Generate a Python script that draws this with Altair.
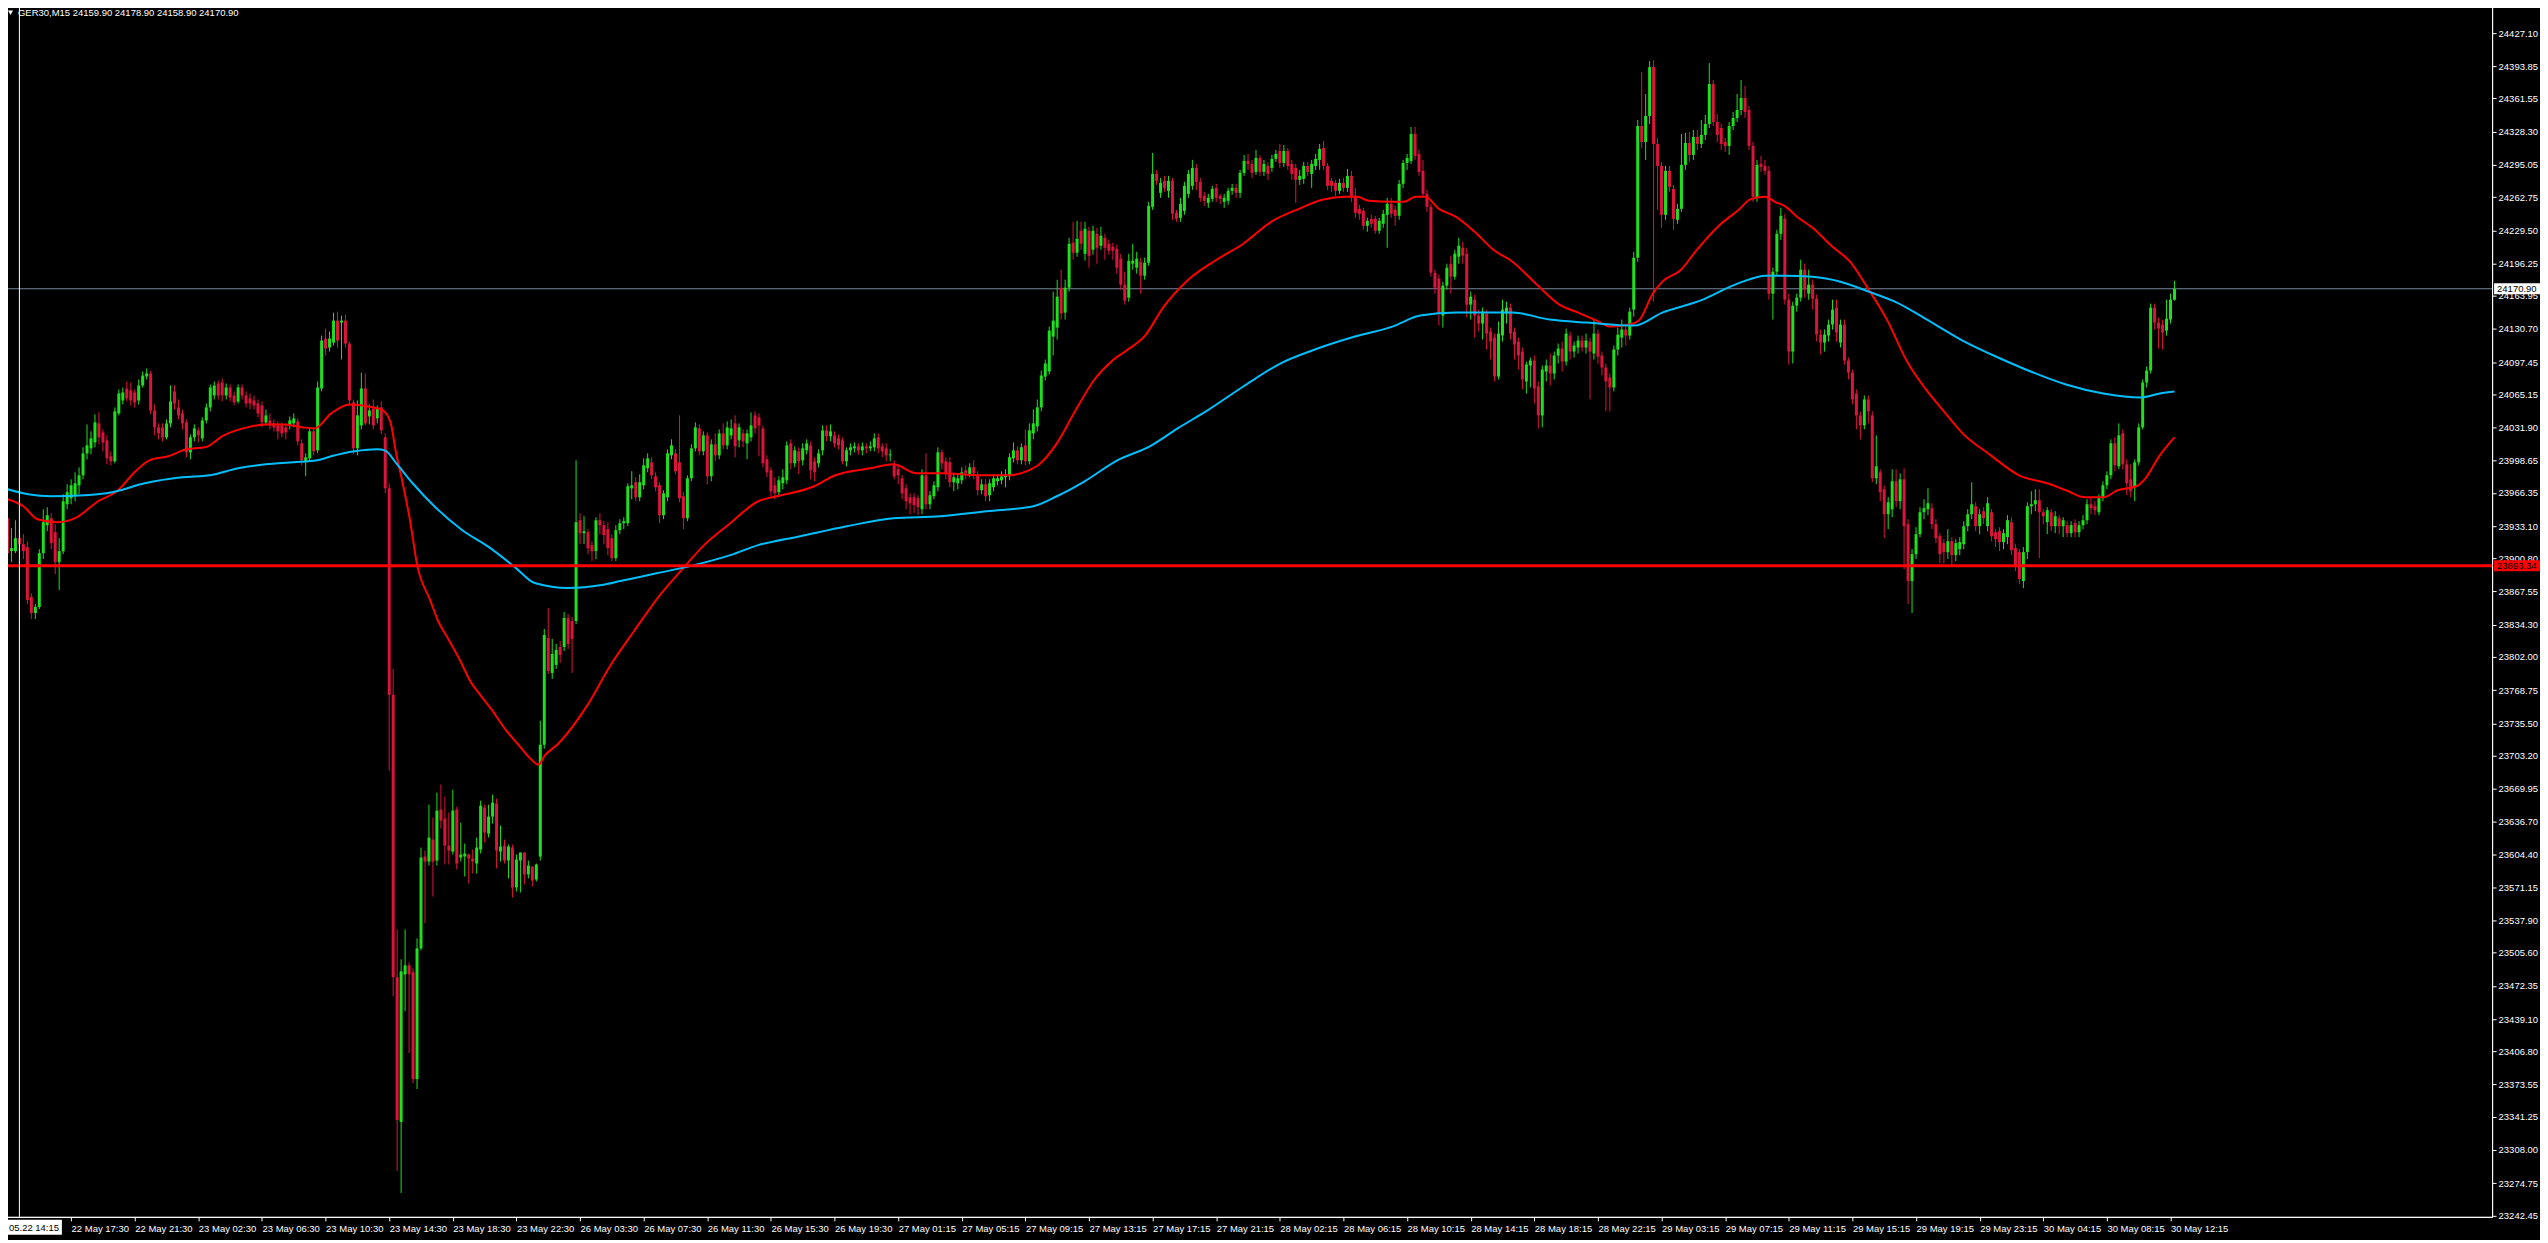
import json
import altair as alt
import pandas as pd

# ---------------- data ----------------
symbol = "GER30,M15"

opens = [
    23941, 23908, 23908, 23921, 23915, 23912, 23862, 23846, 23852, 23906,
    23934, 23941, 23927, 23897, 23908, 23955, 23961, 23964, 23974, 23984,
    24006, 24011, 24017, 24036, 24027, 24019, 24003, 23998, 24046, 24059,
    24071, 24069, 24067, 24059, 24074, 24083, 24086, 24049, 24032, 24032,
    24022, 24036, 24068, 24052, 24046, 24037, 24007, 24022, 24029, 24021,
    24039, 24052, 24064, 24076, 24077, 24064, 24072, 24064, 24058, 24072,
    24064, 24061, 24059, 24056, 24054, 24037, 24039, 24036, 24034, 24034,
    24032, 24034, 24036, 24038, 24016, 23998, 24001, 24028, 24009, 24071,
    24121, 24112, 24117, 24139, 24137, 24139, 24116, 24057, 24011, 24034,
    24071, 24043, 24051, 24041, 24052, 24022, 23971, 23764, 23481, 23336,
    23484, 23493, 23486, 23379, 23510, 23602, 23597, 23619, 23598, 23649,
    23640, 23613, 23607, 23649, 23601, 23602, 23604, 23600, 23595, 23609,
    23651, 23625, 23642, 23655, 23607, 23613, 23598, 23611, 23571, 23598,
    23606, 23584, 23592, 23579, 23602, 23714, 23821, 23786, 23794, 23812,
    23812, 23841, 23838, 23838, 23939, 23926, 23927, 23914, 23908, 23939,
    23934, 23930, 23921, 23901, 23929, 23936, 23936, 23971, 23977, 23962,
    23974, 23991, 23997, 23983, 23974, 23944, 23962, 24004, 24006, 23997,
    23963, 23941, 23981, 24011, 24031, 24008, 24024, 23983, 24015, 24004,
    24026, 24014, 24024, 24036, 24019, 24026, 24016, 24022, 24044, 24042,
    24031, 24000, 23989, 23974, 23967, 23976, 23979, 24016, 23996, 24008,
    23999, 24009, 24014, 23998, 23996, 24009, 24029, 24023, 24024, 24021,
    24019, 23998, 24009, 24011, 24013, 24009, 24013, 24011, 24012, 24022,
    24013, 24011, 24004, 23994, 23990, 23981, 23971, 23962, 23962, 23961,
    23950, 23984, 23955, 23963, 23972, 24007, 23998, 23997, 23977, 23976,
    23979, 23989, 23985, 23992, 23984, 23969, 23975, 23964, 23972, 23978,
    23979, 23982, 23983, 24001, 24009, 23999, 24014, 23998, 24026, 24033,
    24052, 24083, 24088, 24123, 24132, 24172, 24147, 24172, 24217, 24207,
    24229, 24206, 24229, 24210, 24226, 24214, 24222, 24216, 24213, 24211,
    24201, 24175, 24162, 24196, 24192, 24198, 24184, 24197, 24253, 24286,
    24267, 24279, 24269, 24279, 24247, 24242, 24249, 24266, 24274, 24292,
    24278, 24264, 24257, 24261, 24272, 24264, 24258, 24259, 24269, 24272,
    24267, 24287, 24299, 24296, 24288, 24302, 24288, 24294, 24292, 24301,
    24309, 24297, 24309, 24296, 24292, 24280, 24281, 24294, 24286, 24294,
    24300, 24312, 24294, 24279, 24277, 24269, 24277, 24272, 24284, 24264,
    24251, 24249, 24234, 24241, 24241, 24229, 24236, 24245, 24256, 24250,
    24244, 24276, 24297, 24299, 24326, 24306, 24289, 24266, 24253, 24187,
    24181, 24144, 24174, 24196, 24183, 24203, 24212, 24206, 24155, 24160,
    24144, 24136, 24146, 24128, 24122, 24083, 24124, 24146, 24152, 24128,
    24118, 24108, 24078, 24094, 24099, 24073, 24044, 24088, 24094, 24086,
    24104, 24111, 24098, 24124, 24108, 24112, 24119, 24112, 24118, 24106,
    24126, 24104, 24092, 24082, 24072, 24110, 24122, 24130, 24124, 24150,
    24202, 24334, 24318, 24344, 24393, 24316, 24294, 24245, 24289, 24271,
    24240, 24251, 24295, 24317, 24305, 24323, 24316, 24325, 24336, 24376,
    24338, 24332, 24318, 24314, 24334, 24342, 24350, 24362, 24350, 24314,
    24263, 24296, 24294, 24289, 24166, 24188, 24226, 24241, 24160, 24108,
    24154, 24162, 24190, 24166, 24175, 24161, 24125, 24117, 24124, 24135,
    24152, 24117, 24135, 24099, 24087, 24066, 24044, 24034, 24060, 24044,
    23981, 23987, 23970, 23945, 23950, 23978, 23958, 23980, 23935, 23878,
    23905, 23925, 23947, 23950, 23951, 23935, 23923, 23916, 23907, 23918,
    23904, 23910, 23915, 23933, 23945, 23953, 23933, 23948, 23933, 23947,
    23927, 23928, 23917, 23922, 23937, 23911, 23907, 23878, 23907, 23953,
    23955, 23959, 23947, 23937, 23947, 23933, 23941, 23933, 23934, 23926,
    23936, 23927, 23934, 23939, 23955, 23953, 23947, 23961, 23974, 23984,
    24016, 23993, 24026, 23995, 23980, 23973, 23997, 24032, 24077, 24089,
    24152, 24137, 24135, 24129, 24140, 24159.90,
]

highs = [
    23945, 23931, 23939, 23929, 23925, 23918, 23866, 23855, 23910, 23950,
    23952, 23946, 23935, 23921, 23965, 23975, 23980, 23987, 23992, 24012,
    24035, 24028, 24045, 24047, 24030, 24024, 24008, 24052, 24070, 24072,
    24078, 24077, 24070, 24080, 24088, 24091, 24089, 24055, 24036, 24036,
    24040, 24074, 24074, 24060, 24050, 24040, 24025, 24035, 24032, 24042,
    24056, 24075, 24078, 24079, 24081, 24076, 24075, 24068, 24075, 24075,
    24068, 24066, 24064, 24060, 24058, 24050, 24046, 24040, 24038, 24037,
    24036, 24043, 24046, 24041, 24020, 24006, 24031, 24032, 24078, 24124,
    24131, 24128, 24147, 24148, 24144, 24145, 24118, 24060, 24059, 24087,
    24086, 24055, 24060, 24054, 24058, 24026, 23976, 23790, 23529, 23499,
    23529, 23496, 23490, 23520, 23611, 23608, 23654, 23641, 23666, 23674,
    23662, 23646, 23669, 23652, 23636, 23615, 23605, 23609, 23621, 23658,
    23654, 23654, 23664, 23660, 23633, 23619, 23614, 23614, 23604, 23606,
    23606, 23598, 23592, 23595, 23738, 23830, 23851, 23820, 23815, 23818,
    23847, 23845, 23842, 23999, 23946, 23943, 23930, 23918, 23942, 23946,
    23938, 23937, 23925, 23934, 23940, 23942, 23976, 23988, 23982, 23985,
    24001, 24006, 24002, 23987, 23977, 23969, 24010, 24020, 24010, 24044,
    23967, 23984, 24015, 24037, 24035, 24028, 24027, 24020, 24026, 24030,
    24036, 24038, 24040, 24044, 24036, 24030, 24030, 24047, 24048, 24046,
    24034, 24004, 23992, 23982, 23983, 23990, 24018, 24020, 24013, 24012,
    24016, 24020, 24018, 24002, 24010, 24034, 24034, 24035, 24028, 24025,
    24022, 24012, 24016, 24017, 24016, 24017, 24016, 24018, 24026, 24026,
    24016, 24016, 24010, 23999, 23995, 23984, 23975, 23966, 23966, 23964,
    23990, 24006, 23968, 23978, 24012, 24010, 24002, 24002, 23986, 23985,
    23992, 23994, 23996, 23999, 23988, 23980, 23980, 23980, 23985, 23985,
    23988, 23990, 24006, 24017, 24013, 24016, 24030, 24036, 24050, 24060,
    24089, 24100, 24133, 24168, 24180, 24190, 24180, 24222, 24238, 24239,
    24238, 24238, 24233, 24234, 24232, 24233, 24226, 24220, 24217, 24215,
    24206, 24188, 24206, 24216, 24208, 24202, 24202, 24258, 24307, 24290,
    24282, 24284, 24284, 24282, 24250, 24262, 24278, 24290, 24300, 24296,
    24282, 24268, 24266, 24274, 24276, 24266, 24266, 24272, 24276, 24276,
    24290, 24305, 24306, 24300, 24310, 24305, 24300, 24298, 24305, 24310,
    24316, 24315, 24312, 24300, 24296, 24290, 24298, 24298, 24300, 24306,
    24316, 24319, 24297, 24282, 24280, 24281, 24282, 24291, 24289, 24272,
    24255, 24252, 24242, 24245, 24244, 24242, 24250, 24262, 24262, 24254,
    24280, 24300, 24306, 24333, 24333, 24310, 24300, 24270, 24256, 24190,
    24185, 24178, 24196, 24204, 24210, 24222, 24218, 24212, 24168, 24165,
    24150, 24152, 24150, 24132, 24126, 24138, 24160, 24158, 24156, 24132,
    24122, 24112, 24098, 24102, 24104, 24078, 24094, 24100, 24106, 24108,
    24116, 24118, 24131, 24128, 24118, 24124, 24124, 24126, 24122, 24140,
    24130, 24108, 24096, 24086, 24114, 24132, 24140, 24136, 24152, 24208,
    24340, 24388, 24366, 24399, 24400, 24322, 24298, 24294, 24294, 24275,
    24256, 24326, 24327, 24328, 24330, 24330, 24340, 24345, 24397, 24380,
    24346, 24336, 24322, 24338, 24348, 24366, 24380, 24374, 24354, 24318,
    24300, 24304, 24300, 24294, 24192, 24230, 24252, 24246, 24166, 24158,
    24166, 24200, 24196, 24190, 24180, 24165, 24130, 24130, 24140, 24160,
    24160, 24140, 24140, 24102, 24090, 24070, 24048, 24064, 24064, 24048,
    24024, 23990, 23974, 23962, 23990, 23990, 23986, 23991, 23940, 23910,
    23932, 23952, 23960, 23971, 23956, 23940, 23926, 23920, 23930, 23922,
    23920, 23922, 23938, 23950, 23977, 23957, 23950, 23952, 23962, 23950,
    23930, 23932, 23930, 23944, 23942, 23915, 23910, 23912, 23957, 23968,
    23970, 23970, 23950, 23952, 23950, 23948, 23944, 23942, 23938, 23938,
    23940, 23938, 23944, 23960, 23962, 23958, 23965, 23978, 23988, 24020,
    24022, 24036, 24030, 24000, 23995, 24000, 24036, 24080, 24093, 24156,
    24156, 24142, 24140, 24160, 24166, 24178.90,
]

lows = [
    23897, 23897, 23906, 23906, 23900, 23855, 23840, 23840, 23850, 23900,
    23928, 23910, 23885, 23869, 23905, 23950, 23955, 23958, 23965, 23980,
    24000, 24005, 24012, 24015, 24008, 23995, 23994, 23996, 24044, 24055,
    24058, 24054, 24052, 24055, 24072, 24080, 24045, 24024, 24020, 24018,
    24020, 24032, 24050, 24040, 24030, 24002, 24000, 24018, 24017, 24018,
    24036, 24048, 24060, 24060, 24058, 24060, 24058, 24054, 24056, 24060,
    24052, 24050, 24050, 24042, 24032, 24034, 24030, 24028, 24020, 24022,
    24020, 24030, 24032, 24014, 23994, 23983, 23998, 24004, 24006, 24068,
    24104, 24108, 24114, 24112, 24100, 24112, 24054, 24005, 24004, 24030,
    24034, 24035, 24030, 24036, 24025, 23966, 23688, 23462, 23287, 23265,
    23447, 23405, 23375, 23369, 23508, 23535, 23593, 23562, 23593, 23630,
    23594, 23594, 23604, 23589, 23597, 23582, 23575, 23585, 23585, 23605,
    23616, 23621, 23635, 23590, 23597, 23595, 23580, 23561, 23567, 23566,
    23574, 23580, 23572, 23577, 23598, 23710, 23785, 23780, 23790, 23796,
    23808, 23810, 23786, 23835, 23915, 23915, 23905, 23898, 23900, 23925,
    23915, 23904, 23898, 23898, 23925, 23930, 23933, 23960, 23958, 23958,
    23970, 23987, 23980, 23968, 23936, 23940, 23958, 24000, 23985, 23957,
    23930, 23938, 23978, 24008, 24004, 24004, 23975, 23978, 23998, 24000,
    24010, 24010, 24020, 24002, 24012, 24012, 24000, 24018, 24026, 24003,
    23992, 23982, 23962, 23960, 23962, 23970, 23975, 23990, 23992, 23985,
    23994, 24005, 23980, 23978, 23992, 24004, 24018, 24018, 24012, 24010,
    23995, 23993, 24004, 24007, 24005, 24004, 24006, 24008, 24008, 24006,
    24002, 23998, 23998, 23980, 23975, 23960, 23950, 23945, 23946, 23944,
    23945, 23950, 23950, 23960, 23968, 23990, 23980, 23972, 23968, 23970,
    23975, 23980, 23982, 23980, 23964, 23965, 23958, 23958, 23968, 23974,
    23975, 23972, 23979, 23997, 23995, 23995, 23994, 23995, 24020, 24028,
    24048, 24079, 24085, 24104, 24120, 24140, 24140, 24168, 24200, 24203,
    24210, 24199, 24192, 24205, 24196, 24210, 24200, 24205, 24200, 24186,
    24170, 24155, 24158, 24190, 24186, 24166, 24180, 24194, 24250, 24275,
    24262, 24268, 24262, 24240, 24238, 24238, 24245, 24262, 24270, 24270,
    24258, 24254, 24252, 24258, 24258, 24256, 24252, 24255, 24265, 24262,
    24262, 24284, 24290, 24282, 24285, 24284, 24284, 24280, 24288, 24298,
    24292, 24293, 24290, 24280, 24257, 24275, 24276, 24284, 24272, 24290,
    24290, 24290, 24270, 24268, 24264, 24266, 24268, 24268, 24258, 24242,
    24240, 24230, 24228, 24232, 24226, 24226, 24232, 24212, 24242, 24234,
    24240, 24272, 24290, 24296, 24300, 24284, 24262, 24248, 24183, 24166,
    24134, 24132, 24170, 24166, 24180, 24196, 24196, 24142, 24140, 24122,
    24128, 24120, 24110, 24100, 24078, 24080, 24118, 24136, 24120, 24100,
    24090, 24070, 24066, 24072, 24056, 24031, 24032, 24078, 24074, 24080,
    24096, 24088, 24094, 24100, 24102, 24106, 24108, 24106, 24060, 24100,
    24096, 24084, 24048, 24048, 24068, 24104, 24112, 24114, 24120, 24143,
    24198, 24312, 24300, 24336, 24158, 24250, 24232, 24240, 24268, 24230,
    24236, 24248, 24290, 24298, 24300, 24310, 24312, 24320, 24332, 24334,
    24318, 24310, 24308, 24305, 24330, 24338, 24345, 24342, 24310, 24258,
    24258, 24288, 24285, 24160, 24140, 24184, 24220, 24155, 24095, 24096,
    24148, 24158, 24162, 24160, 24150, 24118, 24105, 24108, 24118, 24130,
    24118, 24112, 24095, 24080, 24055, 24030, 24020, 24030, 24036, 23977,
    23975, 23958, 23921, 23930, 23942, 23952, 23950, 23890, 23855, 23846,
    23900, 23922, 23940, 23944, 23930, 23916, 23896, 23896, 23900, 23892,
    23898, 23904, 23910, 23928, 23940, 23928, 23925, 23935, 23928, 23918,
    23912, 23908, 23910, 23915, 23904, 23888, 23875, 23871, 23900, 23945,
    23948, 23901, 23935, 23925, 23928, 23926, 23925, 23922, 23922, 23922,
    23922, 23922, 23930, 23935, 23945, 23944, 23944, 23958, 23970, 23980,
    23988, 23990, 23990, 23964, 23962, 23958, 23994, 24030, 24072, 24086,
    24130, 24111, 24110, 24124, 24136, 24158.90,
]

closes = [
    23906, 23911, 23921, 23915, 23908, 23859, 23846, 23852, 23906, 23937,
    23944, 23916, 23897, 23908, 23958, 23967, 23974, 23976, 23984, 24006,
    24014, 24021, 24037, 24022, 24017, 24001, 23998, 24048, 24066, 24067,
    24061, 24059, 24057, 24074, 24084, 24086, 24049, 24032, 24026, 24022,
    24036, 24058, 24056, 24044, 24036, 24007, 24022, 24031, 24024, 24039,
    24052, 24072, 24074, 24064, 24064, 24072, 24062, 24057, 24072, 24064,
    24056, 24056, 24054, 24046, 24037, 24044, 24034, 24032, 24028, 24026,
    24027, 24039, 24041, 24018, 23999, 24002, 24028, 24008, 24072, 24119,
    24111, 24121, 24139, 24119, 24139, 24116, 24059, 24011, 24044, 24071,
    24036, 24049, 24034, 24051, 24029, 23971, 23764, 23481, 23338, 23487,
    23493, 23484, 23379, 23510, 23601, 23597, 23621, 23597, 23648, 23638,
    23613, 23608, 23648, 23595, 23604, 23605, 23600, 23597, 23611, 23653,
    23626, 23642, 23656, 23608, 23612, 23598, 23612, 23571, 23599, 23606,
    23584, 23593, 23578, 23594, 23714, 23824, 23788, 23805, 23809, 23804,
    23841, 23815, 23820, 23937, 23926, 23928, 23911, 23908, 23939, 23934,
    23924, 23911, 23901, 23929, 23936, 23938, 23973, 23974, 23962, 23977,
    23994, 24001, 23984, 23972, 23944, 23966, 24006, 24014, 23988, 23961,
    23941, 23981, 24011, 24032, 24008, 24024, 23983, 24015, 24004, 24026,
    24014, 24032, 24031, 24013, 24032, 24018, 24026, 24034, 24031, 24034,
    23996, 23987, 23968, 23966, 23979, 23982, 24014, 23996, 24009, 23998,
    24011, 24016, 23989, 23987, 24006, 24029, 24023, 24028, 24016, 24014,
    23998, 24009, 24012, 24013, 24009, 24013, 24011, 24013, 24021, 24011,
    24008, 24004, 24005, 23983, 23984, 23966, 23958, 23956, 23954, 23952,
    23984, 23955, 23964, 23974, 24007, 23996, 23986, 23977, 23982, 23981,
    23987, 23986, 23992, 23986, 23969, 23975, 23963, 23976, 23981, 23981,
    23983, 23984, 24002, 24009, 23999, 24012, 23998, 24029, 24036, 24052,
    24084, 24096, 24129, 24139, 24163, 24146, 24172, 24216, 24207, 24221,
    24216, 24231, 24204, 24229, 24212, 24224, 24212, 24209, 24209, 24192,
    24175, 24159, 24199, 24199, 24201, 24184, 24197, 24254, 24286, 24279,
    24277, 24272, 24279, 24246, 24241, 24256, 24274, 24286, 24292, 24278,
    24262, 24259, 24262, 24271, 24262, 24261, 24262, 24269, 24272, 24267,
    24287, 24299, 24296, 24287, 24302, 24288, 24296, 24286, 24301, 24306,
    24297, 24309, 24294, 24286, 24280, 24284, 24294, 24288, 24296, 24301,
    24311, 24294, 24274, 24274, 24269, 24277, 24272, 24284, 24264, 24247,
    24246, 24234, 24239, 24236, 24229, 24239, 24246, 24256, 24246, 24244,
    24276, 24297, 24302, 24326, 24304, 24288, 24266, 24253, 24187, 24172,
    24146, 24174, 24192, 24183, 24206, 24214, 24204, 24155, 24163, 24144,
    24136, 24148, 24126, 24118, 24083, 24126, 24150, 24152, 24126, 24115,
    24104, 24080, 24095, 24099, 24071, 24044, 24090, 24094, 24086, 24104,
    24111, 24098, 24126, 24108, 24114, 24119, 24112, 24119, 24108, 24126,
    24103, 24092, 24078, 24072, 24110, 24125, 24130, 24124, 24148, 24202,
    24334, 24318, 24344, 24393, 24316, 24294, 24245, 24289, 24273, 24241,
    24251, 24295, 24317, 24305, 24323, 24316, 24325, 24336, 24376, 24338,
    24325, 24316, 24314, 24334, 24342, 24350, 24362, 24348, 24314, 24263,
    24295, 24293, 24289, 24166, 24188, 24226, 24244, 24160, 24108, 24154,
    24162, 24190, 24170, 24175, 24161, 24125, 24117, 24125, 24135, 24150,
    24127, 24135, 24099, 24087, 24060, 24044, 24034, 24060, 24048, 23981,
    23993, 23967, 23945, 23957, 23978, 23958, 23980, 23933, 23878, 23905,
    23925, 23947, 23951, 23956, 23935, 23921, 23905, 23907, 23918, 23904,
    23916, 23917, 23933, 23945, 23955, 23933, 23945, 23941, 23956, 23923,
    23920, 23917, 23926, 23939, 23909, 23893, 23880, 23907, 23953, 23955,
    23959, 23947, 23943, 23949, 23933, 23943, 23933, 23939, 23926, 23934,
    23927, 23934, 23939, 23955, 23951, 23949, 23961, 23974, 23984, 24016,
    23994, 24024, 23995, 23976, 23968, 23997, 24032, 24077, 24089, 24152,
    24137, 24131, 24127, 24141, 24160, 24170.90,
]

# red moving average, read at sample bars
red_ma_bars = [0, 4, 7.5, 12.8, 17, 22.8, 27.5, 32.2, 35.7, 40.4, 45, 49.7, 54.4, 60.3, 65, 69.7,
               74.4, 77.3, 81.4, 86, 90.8, 94.4, 96.4, 97.6, 99.4, 101.1, 103.1, 106.3, 108.3, 111,
               113.5, 116.8, 118.5, 121.8, 125.1, 128.5, 131.8, 133.5, 135.1, 138.5, 145.9, 151.7,
               157.6, 163.5, 169.3, 175.2, 181.8, 188.8, 193.5, 202.9, 207.6, 217, 222.8, 228.7,
               234.6, 245.1, 252.1, 256.8, 259.2, 263.9, 268.6, 273.2, 277.9, 281.4, 286.1, 290.8,
               296.7, 303.7, 310.8, 317.8, 324.8, 330.7, 336.5, 339.5, 342.4, 348.3, 351.2, 354.1,
               356.5, 360, 364.3, 369, 373.7, 378.5, 384.4, 390.3, 395, 399.7, 403.2, 408, 410.3,
               413.8, 416.2, 420.9, 424.5, 430.4, 435.1, 438.6, 442.2, 444.5, 446.9, 450.4, 454,
               458.7, 463.4, 468.1, 472.8, 477.6, 482.3, 487, 491.7, 498.8, 505.9, 513, 517.7,
               522.4, 527.1, 530.7, 535.4, 537.7, 541.3, 545]
red_ma_vals = [23960, 23953, 23940, 23937, 23941, 23958, 23968, 23988, 23999, 24003, 24010, 24012,
               24024, 24032, 24035, 24035, 24032, 24031, 24046, 24055, 24053, 24049, 24036, 24009,
               23976, 23942, 23893, 23859, 23838, 23819, 23801, 23775, 23766, 23749, 23730, 23714,
               23699, 23694, 23703, 23715, 23754, 23794, 23828, 23861, 23888, 23914, 23936, 23958,
               23963, 23973, 23983, 23991, 23995, 23986, 23986, 23984, 23984, 23989, 23994, 24016,
               24049, 24079, 24099, 24109, 24124, 24153, 24179, 24199, 24216, 24238, 24251, 24260,
               24263, 24263, 24259, 24258, 24258, 24263, 24263, 24251, 24243, 24228, 24210, 24198,
               24176, 24155, 24147, 24139, 24133, 24135, 24139, 24166, 24178, 24190, 24208, 24234,
               24249, 24261, 24263, 24258, 24254, 24242, 24232, 24214, 24198, 24170, 24139, 24099,
               24071, 24048, 24026, 24004, 23984, 23976, 23969, 23962, 23962, 23969, 23973, 23981,
               24004, 24022]

# blue moving average, read at sample bars
blue_ma_bars = [0, 5.2, 11, 19.3, 26.3, 34.5, 43.9, 50.9, 58, 65, 72, 77.9, 81.4, 87.3, 93.1,
                94.9, 97.8, 101.9, 107.6, 114.4, 121.1, 127.6, 132.6, 141.1, 149.4, 154.1, 163.5,
                171.7, 177.5, 181.8, 188.8, 199.4, 211.1, 222.8, 234.6, 246.3, 258, 263.9, 270.9,
                279.1, 287.3, 294.3, 301.4, 310.8, 320.1, 329.5, 338.9, 348.3, 355.3, 364.3,
                378.5, 387.9, 397.3, 409.1, 416.2, 425.7, 435.1, 442.2, 446.9, 454, 461, 468.1,
                475.2, 482.3, 491.7, 501.2, 508.2, 517.7, 527.1, 536.5, 541.3, 545]
blue_ma_vals = [23970, 23965, 23963, 23964, 23967, 23976, 23982, 23984, 23991, 23995, 23997, 23999,
                24003, 24008, 24010, 24009, 23996, 23976, 23952, 23929, 23912, 23892, 23876, 23871,
                23874, 23878, 23886, 23893, 23899, 23904, 23914, 23923, 23933, 23941, 23943, 23948,
                23953, 23963, 23978, 23999, 24013, 24031, 24048, 24073, 24096, 24111, 24123, 24133,
                24144, 24147, 24147, 24140, 24137, 24134, 24147, 24159, 24176, 24184, 24184, 24183,
                24178, 24168, 24157, 24141, 24119, 24101, 24089, 24075, 24066, 24062, 24066, 24068]

price_labels = [24427.10, 24393.85, 24361.55, 24328.30, 24295.05, 24262.75, 24229.50, 24196.25,
                24163.95, 24130.70, 24097.45, 24065.15, 24031.90, 23998.65, 23966.35, 23933.10,
                23900.80, 23867.55, 23834.30, 23802.00, 23768.75, 23735.50, 23703.20, 23669.95,
                23636.70, 23604.40, 23571.15, 23537.90, 23505.60, 23472.35, 23439.10, 23406.80,
                23373.55, 23341.25, 23308.00, 23274.75, 23242.45]

time_labels = ["22 May 13:30", "22 May 17:30", "22 May 21:30", "23 May 02:30", "23 May 06:30",
               "23 May 10:30", "23 May 14:30", "23 May 18:30", "23 May 22:30", "26 May 03:30",
               "26 May 07:30", "26 May 11:30", "26 May 15:30", "26 May 19:30", "27 May 01:15",
               "27 May 05:15", "27 May 09:15", "27 May 13:15", "27 May 17:15", "27 May 21:15",
               "28 May 02:15", "28 May 06:15", "28 May 10:15", "28 May 14:15", "28 May 18:15",
               "28 May 22:15", "29 May 03:15", "29 May 07:15", "29 May 11:15", "29 May 15:15",
               "29 May 19:15", "29 May 23:15", "30 May 04:15", "30 May 08:15", "30 May 12:15"]
tick_step = 16
tick_bars = [i * tick_step for i in range(len(time_labels))]

bid_price = 24170.90
hline_price = 23893.34
vline_bar = 3
vline_label = "05.22 14:15"

# ---------------- styling ----------------
FG = "#ffffff"
BULL = "#1ee01e"
BEAR = "#dc143c"
MA_RED = "#ff0000"
MA_BLUE = "#00bfff"
BID_COLOR = "#778899"
FONT = "Liberation Sans"
FS = 9.5
W, H = 2497, 1216

# ---------------- frames ----------------
n = len(closes)
df = pd.DataFrame({"bar": list(range(n)), "open": opens, "high": highs, "low": lows, "close": closes})
df["body_top"] = df[["open", "close"]].max(axis=1)
df["body_bot"] = df[["open", "close"]].min(axis=1)
flat = df["body_top"] == df["body_bot"]
df.loc[flat, "body_top"] = df.loc[flat, "body_bot"] + 1
df["dir"] = ["up" if c >= o else "down" for o, c in zip(opens, closes)]

red_df = pd.DataFrame({"bar": red_ma_bars, "val": red_ma_vals})
blue_df = pd.DataFrame({"bar": blue_ma_bars, "val": blue_ma_vals})
bid_df = pd.DataFrame({"price": [bid_price], "label": [f"{bid_price:.2f}"]})
lvl_df = pd.DataFrame({"price": [hline_price], "label": [f"{hline_price:.2f}"]})
for d in (bid_df, lvl_df):
    d["top"] = d["price"] + 5.5
    d["bot"] = d["price"] - 5.5
vline_df = pd.DataFrame({"bar": [vline_bar]})
one = pd.DataFrame({"t": [f"{symbol}  {opens[-1]:.2f} {highs[-1]:.2f} {lows[-1]:.2f} {closes[-1]:.2f}"]})
vl_df = pd.DataFrame({"t": [vline_label]})

# ---------------- scales / axes ----------------
X_SCALE = alt.Scale(domain=[-0.625, 623.625], nice=False, zero=False)
Y_SCALE = alt.Scale(domain=[23241, 24457], nice=False, zero=False)

# first tick label sits under the vertical-line time marker, so it is left blank
x_axis = alt.Axis(
    orient="bottom", values=tick_bars, title=None, grid=False,
    labelExpr=f"datum.value == 0 ? '' : {json.dumps(time_labels)}[round(datum.value / {tick_step})]",
    domainColor=FG, domainWidth=1, tickColor=FG, tickSize=4, tickWidth=1,
    labelColor=FG, labelFont=FONT, labelFontSize=FS, labelAlign="left",
    labelBaseline="middle", labelPadding=8, labelOverlap=False, labelFlush=False,
)
y_axis = alt.Axis(
    orient="right", values=price_labels, format=".2f", title=None, grid=False,
    domainColor=FG, domainWidth=1, tickColor=FG, tickSize=4, tickWidth=1,
    labelColor=FG, labelFont=FONT, labelFontSize=FS, labelAlign="left",
    labelBaseline="middle", labelPadding=2, labelOverlap=False, labelFlush=False,
)


def X(field="bar"):
    return alt.X(f"{field}:Q", scale=X_SCALE, axis=x_axis)


def Y(field):
    return alt.Y(f"{field}:Q", scale=Y_SCALE, axis=y_axis)


candle_color = alt.Color("dir:N", scale=alt.Scale(domain=["up", "down"], range=[BULL, BEAR]), legend=None)

bid_line = alt.Chart(bid_df).mark_rule(color=BID_COLOR, strokeWidth=1).encode(
    y=Y("price"), x=alt.value(0), x2=alt.value(W))

wicks = alt.Chart(df).mark_rule(strokeWidth=1).encode(
    x=X(), y=Y("low"), y2="high", color=candle_color)

bodies = alt.Chart(df).mark_bar(size=3, strokeWidth=0).encode(
    x=X(), y=Y("body_bot"), y2="body_top", color=candle_color)

red_line = alt.Chart(red_df).mark_line(color=MA_RED, strokeWidth=2, interpolate="monotone").encode(
    x=X(), y=Y("val"))
blue_line = alt.Chart(blue_df).mark_line(color=MA_BLUE, strokeWidth=2, interpolate="monotone").encode(
    x=X(), y=Y("val"))

level_line = alt.Chart(lvl_df).mark_rule(color=MA_RED, strokeWidth=3).encode(
    y=Y("price"), x=alt.value(0), x2=alt.value(W))

vline = alt.Chart(vline_df).mark_rule(color=FG, strokeWidth=1).encode(
    x=X(), y=alt.value(0), y2=alt.value(H))

bid_box = alt.Chart(bid_df).mark_rect(color="#ffffff").encode(
    x=alt.value(W + 2), x2=alt.value(W + 48), y=Y("top"), y2="bot")
bid_text = alt.Chart(bid_df).mark_text(
    align="left", baseline="middle", font=FONT, fontSize=FS, color="#000000").encode(
    x=alt.value(W + 5), y=Y("price"), text="label:N")
lvl_box = alt.Chart(lvl_df).mark_rect(color="#ff0000").encode(
    x=alt.value(W + 2), x2=alt.value(W + 48), y=Y("top"), y2="bot")
lvl_text = alt.Chart(lvl_df).mark_text(
    align="left", baseline="middle", font=FONT, fontSize=FS, color="#000000").encode(
    x=alt.value(W + 5), y=Y("price"), text="label:N")

title_text = alt.Chart(one).mark_text(
    align="left", baseline="middle", font=FONT, fontSize=FS, color=FG).encode(
    x=alt.value(18), y=alt.value(10), text="t:N")
triangle = alt.Chart(one).mark_point(shape="triangle-down", filled=True, size=26, color=FG, opacity=1).encode(
    x=alt.value(10.5), y=alt.value(9.5))

vl_box = alt.Chart(vl_df).mark_rect(color="#ffffff").encode(
    x=alt.value(0), x2=alt.value(62), y=alt.value(H + 3), y2=alt.value(H + 18))
vl_text = alt.Chart(vl_df).mark_text(
    align="left", baseline="middle", font=FONT, fontSize=FS, color="#000000").encode(
    x=alt.value(9), y=alt.value(H + 11), text="t:N")

chart = alt.layer(
    bid_line, wicks, bodies, red_line, blue_line, level_line, vline,
    bid_box, bid_text, lvl_box, lvl_text, title_text, triangle, vl_box, vl_text,
).properties(
    width=W, height=H,
    autosize=alt.AutoSizeParams(type="none"),
    padding={"left": -8, "top": -6, "right": 48, "bottom": 22},
    background="#000000",
).configure_view(stroke=FG, strokeWidth=1)

chart.save("out.html", embed_options={"renderer": "svg", "actions": False})
